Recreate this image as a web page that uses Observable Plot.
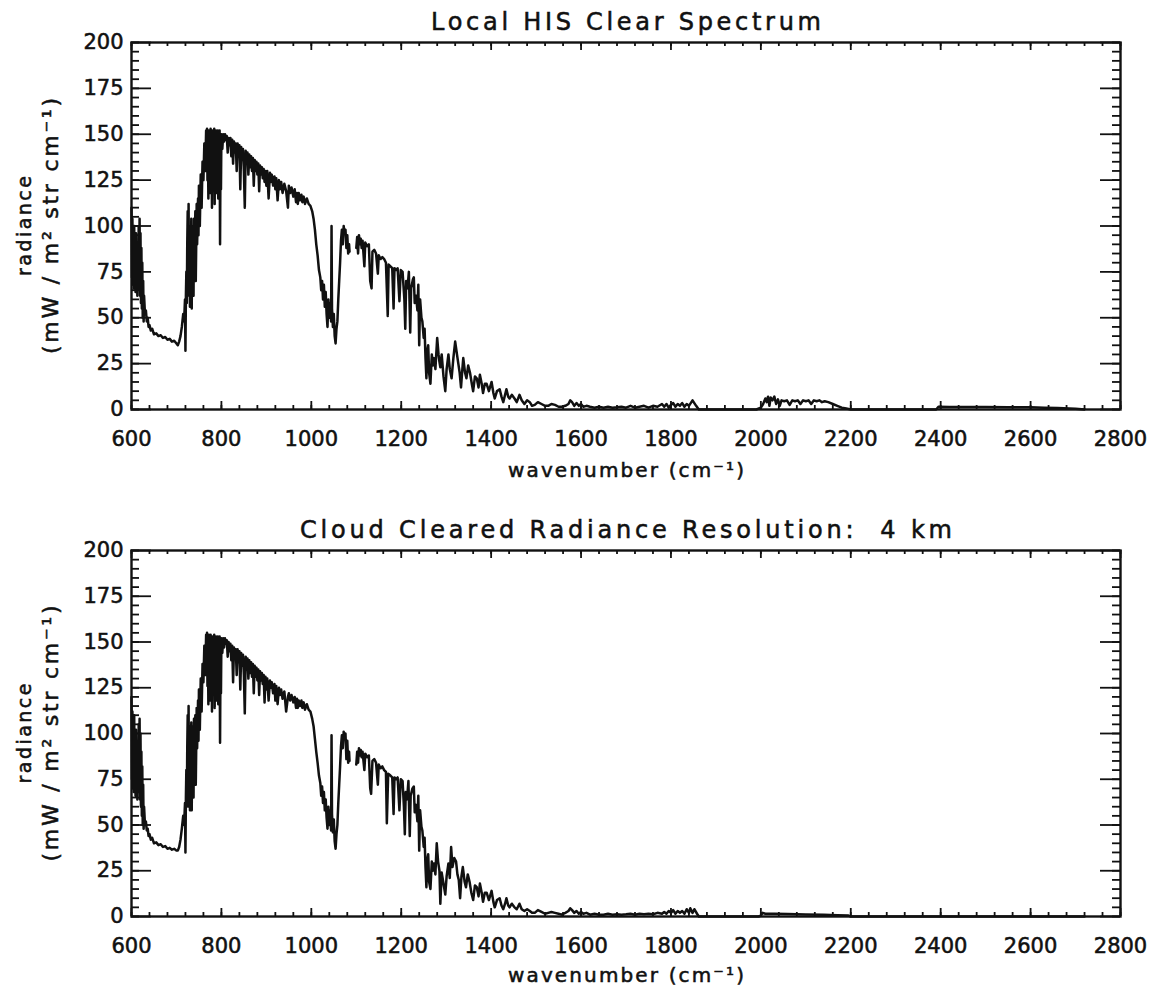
<!DOCTYPE html>
<html><head><meta charset="utf-8">
<script src="https://cdn.jsdelivr.net/npm/d3@7"></script>
<script src="https://cdn.jsdelivr.net/npm/@observablehq/plot@0.6"></script>
<style>
html,body{margin:0;padding:0;background:#fff;}
#chart{width:1155px;height:994px;position:relative;}
#chart svg{display:block;}
#chart svg text{stroke:#111;stroke-width:0.55px;}
</style></head><body><div id="chart"></div>
<script>
// ---- tick values ----
const xMajorTicks = [600, 800, 1000, 1200, 1400, 1600, 1800, 2000, 2200, 2400, 2600, 2800];
const xMinorTicks = d3.range(600, 2801, 40);
const yMajorTicks = [0, 25, 50, 75, 100, 125, 150, 175, 200];
const yMinorTicks = d3.range(0, 201, 5);

const titles = ["Local HIS Clear Spectrum", "Cloud Cleared Radiance Resolution:  4 km"];
const xLabel = "wavenumber (cm⁻¹)";
const yLabel1 = "radiance";
const yLabel2 = "(mW / m² str cm⁻¹)";

// ---- Local HIS clear spectrum: [wavenumber, radiance] ----
const clearBand1 = [[600,110],[601,72],[602,104],[603,68],[604,98],[605,66],[606,100],[607,70],[608,92],[609,64],[610,96],[611,68],[612,90],[613,62],[614,88],[615,66],[616,100],[617,70],[618,104],[619,62],[620,96],[621,58],[622,88],[623,55],[624,80],[625,50],[626,70],[627,48],[628,62],[630,52],[632,54],[634,48],[636,50],[638,45],[640,46],[643,43],[646,44],[650,41],[655,41.5],[660,40],[665,40.5],[670,39],[675,39.5],[680,38],[685,38.5],[690,37],[695,37.5],[700,36],[703,35],[706,37],[709,40],[712,45],[715,52],[717,48],[719,60],[720,32],[721,62],[722,75],[723,58],[724,90],[725,108],[726,70],[727,112],[728,62],[729,98],[730,56],[731,100],[732,60],[733,104],[734,55],[735,96],[736,70],[737,100],[738,62],[739,104],[740,75],[742,108],[743,70],[745,112],[746,90],[748,115],[749,95],[750,122],[752,100],[754,128],[756,110],[758,135],[760,125],[762,145],[764,130],[766,152],[767,140],[768,153],[769,125],[770,150],[771,115],[772,152],[773,130],[774,150],[775,118],[776,153],[777,140],[778,150],[779,110],[780,152],[781,120],[782,150],[783,130],[784,153],[785,112],[786,148],[787,125],[788,152],[789,118],[790,150],[791,135],[792,152],[793,115],[794,148],[795,130],[796,152],[797,90],[798,140],[799,120],[800,150],[802,142],[804,150],[806,146],[808,150],[810,147],[812,149],[814,140],[816,148],[818,144],[820,148],[822,138],[824,147],[826,134],[828,146],[830,140],[832,145],[834,130],[836,145],[838,138],[840,144],[842,120],[844,143],[846,136],[848,142],[850,130],[852,110],[854,141],[856,134],[858,140],[860,128],[862,139],[864,132],[866,138],[868,130],[870,137],[872,122],[874,136],[876,130],[878,135],[880,128],[882,134],[884,119],[886,133],[888,128],[890,132],[892,126],[894,131],[896,124],[898,130],[900,122],[902,130],[905,115],[908,129],[910,124],[912,128],[915,122],[918,127],[920,120],[922,126],[925,114],[928,125],[930,120],[933,124],[936,118],[940,123],[944,119],[948,110],[950,122],[953,118],[956,121],[960,116],[963,120],[966,113],[968,118],[970,112],[972,118],[975,114],[978,117],[980,113],[983,116],[986,112],[990,115],[994,112],[998,111],[1002,108],[1005,104],[1008,98],[1011,90],[1014,84],[1017,76],[1020,72],[1022,65],[1024,70],[1026,60],[1028,68],[1030,56],[1032,64],[1034,52],[1036,45],[1038,60],[1040,50],[1042,58],[1044,48],[1045,100],[1046,55],[1048,45],[1050,52],[1052,40],[1054,36],[1056,44],[1058,48],[1060,60],[1062,70],[1064,80],[1066,92],[1068,98],[1070,90],[1072,100],[1074,96],[1076,98],[1078,88],[1080,95],[1082,85],[1084,90],[1085,86]];
const clearBand2 = [[1100,88],[1102,94],[1104,85],[1106,95],[1108,90],[1110,93],[1112,88],[1114,92],[1118,78],[1120,91],[1124,89],[1128,90],[1131,70],[1134,66],[1136,86],[1140,87],[1144,85],[1148,74],[1150,84],[1154,82],[1158,83],[1162,82],[1166,80],[1170,51],[1172,79],[1176,78],[1180,77],[1183,55],[1185,77],[1189,76],[1192,77],[1196,59],[1199,76],[1203,75],[1207,60],[1209,44],[1211,70],[1214,66],[1217,75],[1220,42],[1222,66],[1226,71],[1228,72],[1230,58],[1233,62],[1236,54],[1238,68],[1240,35],[1242,60],[1245,50],[1247,48],[1250,39],[1252,44],[1254,28],[1256,17],[1258,32],[1260,35],[1262,20],[1265,14],[1268,30],[1270,24],[1273,28],[1276,22],[1280,39],[1283,30],[1285,26],[1287,23],[1290,30],[1294,18],[1298,10],[1301,22],[1305,30],[1308,22],[1312,17],[1316,28],[1320,37],[1324,30],[1327,25],[1330,20],[1333,12],[1336,22],[1338,28],[1342,20],[1345,17],[1349,24],[1353,20],[1357,14],[1360,10],[1364,18],[1368,17],[1372,12],[1375,19],[1379,14],[1382,9],[1386,14],[1390,14],[1395,10],[1401,15],[1405,9],[1408,6],[1413,10],[1419,11],[1423,7],[1427,4],[1431,8],[1434,11],[1438,7],[1441,6],[1446,8],[1452,6],[1457,4],[1463,8],[1468,5],[1474,3],[1480,5],[1486,4],[1491,2],[1497,2.5],[1504,4],[1512,3],[1520,2],[1527,2],[1534,3],[1542,2.5],[1550,1.5],[1557,1.5],[1565,2],[1572,3],[1576,5],[1580,4],[1585,2],[1590,3.5],[1595,2],[1600,3],[1605,1.5],[1612,2],[1620,1.5],[1630,1],[1640,1.5],[1650,1],[1660,1.5],[1670,1],[1680,1.2],[1690,1.5],[1700,1],[1710,2],[1720,1],[1730,1.5],[1740,2],[1750,1],[1760,2],[1770,1.5],[1780,3],[1785,1.5],[1790,3],[1795,1],[1800,2.5],[1805,3.5],[1810,1.5],[1815,3],[1820,2],[1825,3.5],[1830,1.5],[1835,3],[1840,2],[1848,5],[1856,2],[1862,0]];
const clearBand3 = [[1880,0],[1990,0],[2000,1],[2005,3],[2010,6],[2013,4],[2016,7],[2019,2],[2022,6.5],[2026,5],[2030,7],[2034,3],[2038,5.5],[2042,2],[2046,5],[2052,4.5],[2058,5],[2064,2.5],[2070,5],[2076,4.5],[2082,5],[2088,3],[2094,5],[2100,4.5],[2106,5],[2112,3],[2118,5],[2124,4.5],[2130,5],[2136,4],[2142,4.5],[2150,4],[2160,3],[2170,2],[2180,1],[2190,0.5],[2200,0],[2390,0],[2395,1.5],[2420,1.4],[2450,1.3],[2500,1.3],[2550,1.2],[2600,1.2],[2630,1],[2660,0.8],[2700,0.4],[2720,0]];

// ---- Cloud cleared radiance (4 km): [wavenumber, radiance] ----
const cloudBand1 = [[600,120],[601,75],[602,112],[603,70],[604,105],[605,68],[606,110],[607,72],[608,98],[609,66],[610,102],[611,70],[612,95],[613,64],[614,92],[615,68],[616,105],[617,72],[618,108],[619,64],[620,100],[621,60],[622,90],[623,55],[624,82],[625,50],[626,72],[627,48],[628,60],[630,50],[632,52],[634,47],[636,48],[638,44],[640,45],[643,42],[646,43],[650,40],[655,40.5],[660,39],[665,39.5],[670,38],[675,38.5],[680,37],[685,37.5],[690,36.5],[695,37],[700,36],[703,36],[706,38],[709,42],[712,48],[715,55],[717,50],[719,62],[720,35],[721,65],[722,80],[723,60],[724,92],[725,110],[726,72],[727,115],[728,60],[729,100],[730,58],[731,104],[732,62],[733,106],[734,58],[735,98],[736,72],[737,104],[738,65],[739,108],[740,78],[742,110],[743,72],[745,114],[746,92],[748,118],[749,96],[750,124],[752,102],[754,130],[756,112],[758,138],[760,128],[762,148],[764,132],[766,154],[767,142],[768,155],[769,126],[770,152],[771,116],[772,154],[773,132],[774,152],[775,118],[776,154],[777,142],[778,152],[779,112],[780,153],[781,122],[782,152],[783,132],[784,154],[785,114],[786,150],[787,126],[788,153],[789,118],[790,152],[791,136],[792,153],[793,116],[794,150],[795,132],[796,153],[797,95],[798,142],[799,122],[800,152],[802,144],[804,152],[806,147],[808,152],[810,149],[812,151],[814,142],[816,150],[818,145],[820,149],[822,140],[824,148],[826,128],[828,147],[830,141],[832,146],[834,132],[836,146],[838,139],[840,145],[842,124],[844,144],[846,137],[848,143],[850,132],[852,111],[854,142],[856,135],[858,141],[860,130],[862,140],[864,133],[866,139],[868,131],[870,138],[872,122],[874,137],[876,131],[878,136],[880,129],[882,135],[884,121],[886,134],[888,129],[890,133],[892,127],[894,132],[896,117],[898,131],[900,124],[902,130],[905,118],[908,129],[910,125],[912,128],[915,122],[918,127],[920,118],[922,126],[925,116],[928,125],[930,121],[933,124],[936,119],[940,123],[944,112],[948,120],[950,122],[953,118],[956,121],[960,117],[963,120],[966,114],[968,119],[970,114],[972,118],[975,115],[978,118],[980,114],[983,117],[986,113],[990,116],[994,113],[998,112],[1002,108],[1005,104],[1008,97],[1011,90],[1014,84],[1017,77],[1020,73],[1022,66],[1024,71],[1026,62],[1028,68],[1030,58],[1032,64],[1034,54],[1036,48],[1038,60],[1040,50],[1042,58],[1044,47],[1045,99],[1046,56],[1048,46],[1050,53],[1052,41],[1054,37],[1056,45],[1058,50],[1060,62],[1062,72],[1064,82],[1066,93],[1068,99],[1070,92],[1072,101],[1074,97],[1076,100],[1078,86],[1080,96],[1082,84],[1084,90],[1085,85]];
const cloudBand2 = [[1100,83],[1102,90],[1104,84],[1106,92],[1108,88],[1110,91],[1112,87],[1114,90],[1118,80],[1120,89],[1124,87],[1128,88],[1131,70],[1133,67],[1136,85],[1140,86],[1144,84],[1148,72],[1150,83],[1154,81],[1158,82],[1162,80],[1166,79],[1168,51],[1171,78],[1176,77],[1180,76],[1183,56],[1185,76],[1189,75],[1192,76],[1196,58],[1199,75],[1203,74],[1206,60],[1208,45],[1210,68],[1213,64],[1216,74],[1219,44],[1221,66],[1225,70],[1228,71],[1230,57],[1233,61],[1236,52],[1238,66],[1240,36],[1242,58],[1245,49],[1247,47],[1250,38],[1252,43],[1254,27],[1256,16],[1258,31],[1260,34],[1262,19],[1265,15],[1268,30],[1270,25],[1273,29],[1276,23],[1279,40],[1282,30],[1285,25],[1287,7],[1290,24],[1294,18],[1298,12],[1301,22],[1305,29],[1308,21],[1311,38],[1314,27],[1318,32],[1322,30],[1325,23],[1328,20],[1331,10],[1334,22],[1337,27],[1341,19],[1344,16],[1348,23],[1352,19],[1356,13],[1360,9],[1364,17],[1368,16],[1372,11],[1375,18],[1379,13],[1382,8],[1386,13],[1390,13],[1395,9],[1401,14],[1405,8],[1408,5],[1413,9],[1419,10],[1423,6],[1427,4],[1431,7],[1434,10],[1438,6],[1441,5],[1446,7],[1452,5],[1457,4],[1463,7],[1468,4],[1474,3],[1480,4],[1486,3],[1491,2],[1497,2],[1504,3.5],[1512,2.5],[1520,1.5],[1527,2],[1534,2.5],[1542,2],[1550,1.5],[1557,1],[1565,2],[1572,3],[1576,4.5],[1580,3.5],[1585,2],[1590,3],[1595,1.5],[1600,2.5],[1605,1.5],[1612,2],[1620,1],[1630,1.5],[1640,1],[1650,1],[1660,1.5],[1670,1],[1680,1.2],[1690,1],[1700,1.2],[1710,1.5],[1720,1],[1730,1.5],[1740,1.2],[1750,1.5],[1760,1.2],[1770,2],[1780,1.5],[1785,2.5],[1790,1.5],[1795,3],[1800,2],[1805,3.5],[1810,1.5],[1815,3],[1820,2],[1825,3],[1830,1.5],[1835,4],[1840,2],[1843,4.5],[1848,2],[1852,4],[1858,1.5],[1862,0]];
const cloudBand3 = [[1880,0],[1995,0],[2000,0.5],[2004,2],[2010,1.5],[2030,1.5],[2060,1.3],[2100,1.1],[2140,0.9],[2170,0.7],[2195,0.5],[2200,0],[2720,0]];

const INK = "#111";

function panel({title, lines, marginTop, marginBottom, titleDy, xLabelDy, titleLength}) {
  const W = 1155, H = 497, mL = 131, mR = 35;
  const fh = H - marginTop - marginBottom;
  const fw = W - mL - mR;
  const tick = (data, o) => Plot.ruleX(data, {stroke: INK, strokeWidth: 1.8, ...o});
  const tickY = (data, o) => Plot.ruleY(data, {stroke: INK, strokeWidth: 1.8, ...o});
  const svg = Plot.plot({
    width: W, height: H, marginTop, marginBottom, marginLeft: mL, marginRight: mR,
    x: {domain: [600, 2800]},
    y: {domain: [0, 200]},
    style: {fontFamily: "'DejaVu Sans', sans-serif", fontSize: "21px", color: INK, background: "#fff", overflow: "visible"},
    marks: [
      tick(xMinorTicks, {insetTop: fh - 4}),
      tick(xMajorTicks, {insetTop: fh - 8}),
      tick(xMinorTicks, {insetBottom: fh - 4}),
      tick(xMajorTicks, {insetBottom: fh - 8}),
      tickY(yMinorTicks, {insetRight: fw - 8}),
      tickY(yMajorTicks, {insetRight: fw - 20}),
      tickY(yMinorTicks, {insetLeft: fw - 8}),
      tickY(yMajorTicks, {insetLeft: fw - 20}),
      ...lines.map(b => Plot.line(b, {x: d => d[0], y: d => d[1], stroke: INK, strokeWidth: 2.5, strokeLinejoin: "round"})),
      Plot.frame({stroke: INK, strokeWidth: 2.4}),
      Plot.axisX(xMajorTicks, {tickSize: 0, tickPadding: 22, label: null, tickFormat: d => String(d)}),
      Plot.axisY(yMajorTicks, {tickSize: 0, tickPadding: 8, label: null, tickFormat: d => String(d)}),
      Plot.text([title], {text: d => d, frameAnchor: "top", textAnchor: "middle", lineAnchor: "middle", dy: titleDy, fontSize: 24, fill: INK}),
      Plot.text([xLabel], {text: d => d, frameAnchor: "bottom", textAnchor: "middle", lineAnchor: "middle", dy: xLabelDy, fontSize: 20, fill: INK}),
      Plot.text([yLabel1], {text: d => d, frameAnchor: "left", textAnchor: "middle", lineAnchor: "middle", rotate: -90, dx: -107, fontSize: 19, fill: INK}),
      Plot.text([yLabel2], {text: d => d, frameAnchor: "left", textAnchor: "middle", lineAnchor: "middle", rotate: -90, dx: -81, fontSize: 22, fill: INK})
    ]
  });
  const lengths = {[title]: titleLength, [xLabel]: 236, [yLabel1]: 100, [yLabel2]: 256};
  svg.querySelectorAll("text").forEach(t => {
    const L = lengths[t.textContent];
    if (L) { t.setAttribute("textLength", L); t.setAttribute("lengthAdjust", "spacing"); }
  });
  return svg;
}

const chart = document.getElementById("chart");
chart.appendChild(panel({title: titles[0], lines: [clearBand1, clearBand2.concat(clearBand3)], marginTop: 42, marginBottom: 88, titleDy: -20, xLabelDy: 61, titleLength: 390}));
chart.appendChild(panel({title: titles[1], lines: [cloudBand1, cloudBand2.concat(cloudBand3)], marginTop: 53, marginBottom: 78, titleDy: -20, xLabelDy: 59, titleLength: 652}));
</script></body></html>
